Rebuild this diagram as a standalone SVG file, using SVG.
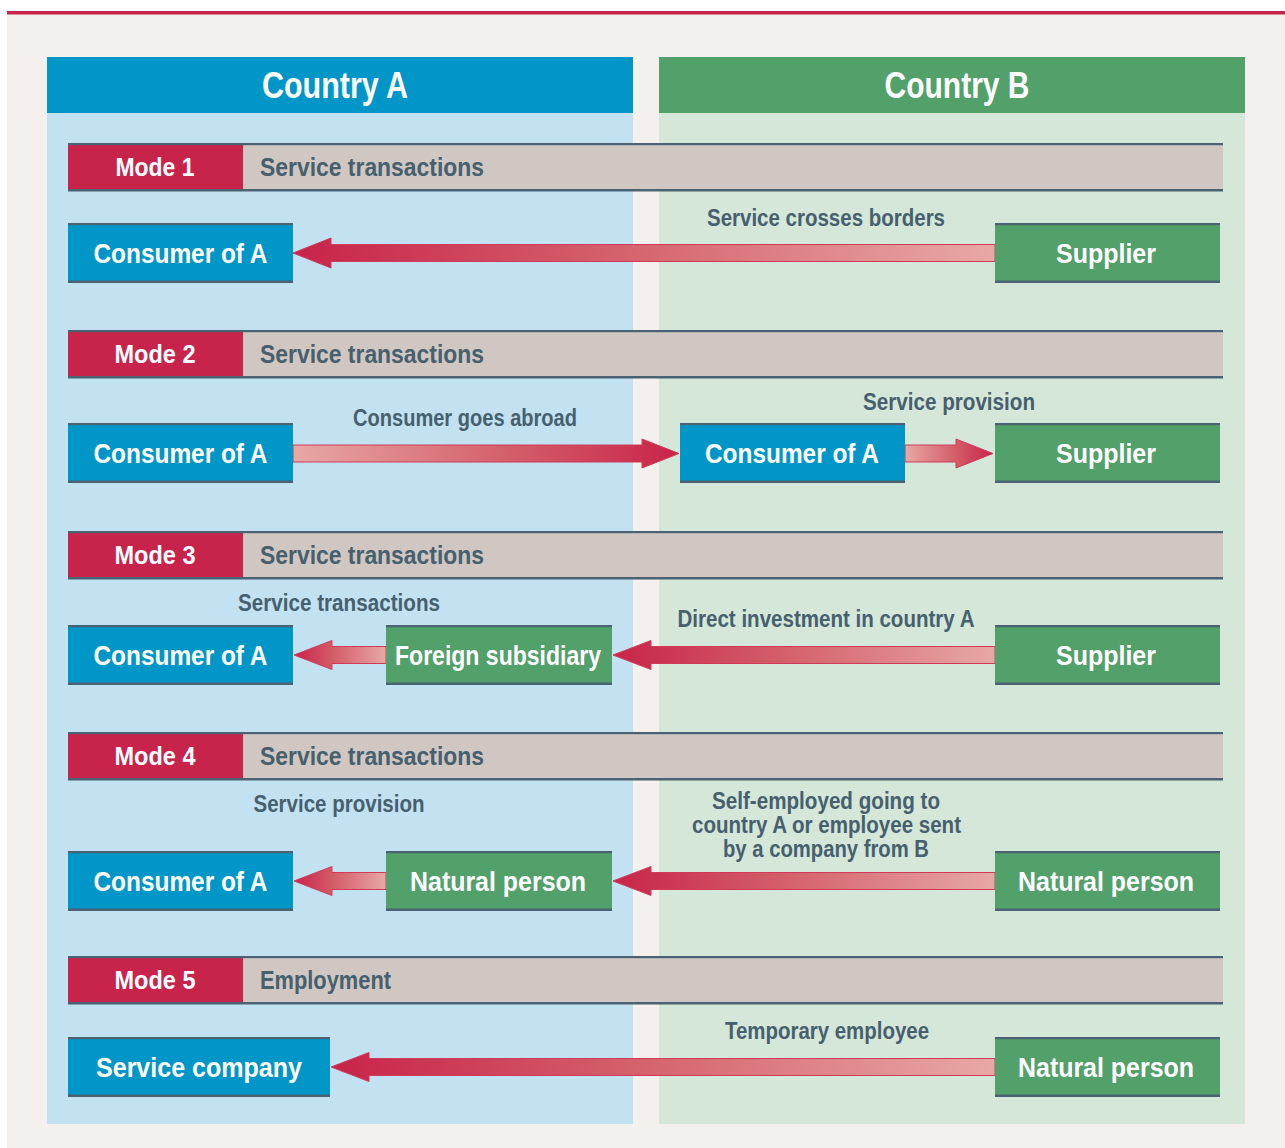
<svg xmlns="http://www.w3.org/2000/svg" width="1285" height="1148" viewBox="0 0 1285 1148">
<defs>
<linearGradient id="gL" x1="0" y1="0" x2="1" y2="0"><stop offset="0" stop-color="#c8234a"/><stop offset="0.45" stop-color="#d4606a"/><stop offset="1" stop-color="#e8a8a6"/></linearGradient>
<linearGradient id="gR" x1="0" y1="0" x2="1" y2="0"><stop offset="0" stop-color="#e8a8a6"/><stop offset="0.55" stop-color="#d4606a"/><stop offset="1" stop-color="#c8234a"/></linearGradient>
<style>
.t{font-family:"Liberation Sans",Arial,sans-serif;font-weight:bold;text-anchor:middle}
.w{fill:#ffffff}
.d{fill:#46606e}
.hd{font-size:36px}
.bx{font-size:28px}
.md{font-size:25px}
.lb{font-size:23px}
.blue{fill:#0096c8}
.green{fill:#52a06a}
.edge{fill:#4a6272}
.arr{stroke:#d03a58;stroke-width:1}
</style>
</defs>
<rect x="0" y="0" width="1285" height="1148" fill="#ffffff"/>
<rect x="7" y="14" width="1278" height="1134" fill="#f3f0ed"/>
<rect x="7" y="11" width="1278" height="3.5" fill="#c8234a"/>

<g id="countryA">
<rect x="47" y="113" width="586" height="1011" fill="#c2e2f2"/>
<rect x="47" y="57" width="586" height="56" fill="#0096c8"/>
<text class="t w hd" x="335" y="98" textLength="146" lengthAdjust="spacingAndGlyphs">Country A</text>
</g>
<g id="countryB">
<rect x="659" y="113" width="586" height="1011" fill="#d5e7d9"/>
<rect x="659" y="57" width="586" height="56" fill="#52a06a"/>
<text class="t w hd" x="957" y="98" textLength="145" lengthAdjust="spacingAndGlyphs">Country B</text>
</g>

<!-- Mode bars -->
<g id="mode1">
<rect x="68" y="143" width="1155" height="48" fill="#d0c7c2"/>
<rect x="68" y="145" width="175" height="44" fill="#c8234a"/>
<rect class="edge" x="68" y="143" width="1155" height="2.2"/>
<rect class="edge" x="68" y="189" width="1155" height="2.5"/>
<text class="t w md" x="155" y="176" textLength="79" lengthAdjust="spacingAndGlyphs">Mode 1</text>
<text class="t d md" x="372" y="176" textLength="224" lengthAdjust="spacingAndGlyphs">Service transactions</text>
</g>
<g id="mode2">
<rect x="68" y="330" width="1155" height="48" fill="#d0c7c2"/>
<rect x="68" y="332" width="175" height="44" fill="#c8234a"/>
<rect class="edge" x="68" y="330" width="1155" height="2.2"/>
<rect class="edge" x="68" y="376" width="1155" height="2.5"/>
<text class="t w md" x="155" y="363" textLength="81" lengthAdjust="spacingAndGlyphs">Mode 2</text>
<text class="t d md" x="372" y="363" textLength="224" lengthAdjust="spacingAndGlyphs">Service transactions</text>
</g>
<g id="mode3">
<rect x="68" y="531" width="1155" height="48" fill="#d0c7c2"/>
<rect x="68" y="533" width="175" height="44" fill="#c8234a"/>
<rect class="edge" x="68" y="531" width="1155" height="2.2"/>
<rect class="edge" x="68" y="577" width="1155" height="2.5"/>
<text class="t w md" x="155" y="564" textLength="81" lengthAdjust="spacingAndGlyphs">Mode 3</text>
<text class="t d md" x="372" y="564" textLength="224" lengthAdjust="spacingAndGlyphs">Service transactions</text>
</g>
<g id="mode4">
<rect x="68" y="732" width="1155" height="48" fill="#d0c7c2"/>
<rect x="68" y="734" width="175" height="44" fill="#c8234a"/>
<rect class="edge" x="68" y="732" width="1155" height="2.2"/>
<rect class="edge" x="68" y="778" width="1155" height="2.5"/>
<text class="t w md" x="155" y="765" textLength="81" lengthAdjust="spacingAndGlyphs">Mode 4</text>
<text class="t d md" x="372" y="765" textLength="224" lengthAdjust="spacingAndGlyphs">Service transactions</text>
</g>
<g id="mode5">
<rect x="68" y="956" width="1155" height="48" fill="#d0c7c2"/>
<rect x="68" y="958" width="175" height="44" fill="#c8234a"/>
<rect class="edge" x="68" y="956" width="1155" height="2.2"/>
<rect class="edge" x="68" y="1002" width="1155" height="2.5"/>
<text class="t w md" x="155" y="989" textLength="81" lengthAdjust="spacingAndGlyphs">Mode 5</text>
<text class="t d md" x="325.5" y="989" textLength="131" lengthAdjust="spacingAndGlyphs">Employment</text>
</g>

<!-- Connectors -->
<g id="connectors">
<polygon class="arr" fill="url(#gL)" points="293,253 331,238 331,244.5 995,244.5 995,261.5 331,261.5 331,268"/>
<polygon class="arr" fill="url(#gR)" points="293,445 642,445 642,439 679,453.5 642,468 642,462 293,462"/>
<polygon class="arr" fill="url(#gR)" points="905,445 956,445 956,439 993,453.5 956,468 956,462 905,462"/>
<polygon class="arr" fill="url(#gL)" points="294,655 332,640.5 332,646.5 386,646.5 386,663.5 332,663.5 332,669.5"/>
<polygon class="arr" fill="url(#gL)" points="613,655 651,640.5 651,646.5 995,646.5 995,663.5 651,663.5 651,669.5"/>
<polygon class="arr" fill="url(#gL)" points="294,881 332,866.5 332,872.5 386,872.5 386,889.5 332,889.5 332,895.5"/>
<polygon class="arr" fill="url(#gL)" points="613,881 651,866.5 651,872.5 995,872.5 995,889.5 651,889.5 651,895.5"/>
<polygon class="arr" fill="url(#gL)" points="331,1067 369,1052.5 369,1058.5 995,1058.5 995,1075.5 369,1075.5 369,1081.5"/>
<text class="t d lb" x="826" y="226" textLength="238" lengthAdjust="spacingAndGlyphs">Service crosses borders</text>
<text class="t d lb" x="465" y="426" textLength="224" lengthAdjust="spacingAndGlyphs">Consumer goes abroad</text>
<text class="t d lb" x="949" y="410" textLength="172" lengthAdjust="spacingAndGlyphs">Service provision</text>
<text class="t d lb" x="339" y="611" textLength="202" lengthAdjust="spacingAndGlyphs">Service transactions</text>
<text class="t d lb" x="826" y="627" textLength="297" lengthAdjust="spacingAndGlyphs">Direct investment in country A</text>
<text class="t d lb" x="339" y="812" textLength="171" lengthAdjust="spacingAndGlyphs">Service provision</text>
<text class="t d lb" x="826" y="809" textLength="228" lengthAdjust="spacingAndGlyphs">Self-employed going to</text>
<text class="t d lb" x="826.5" y="833" textLength="269" lengthAdjust="spacingAndGlyphs">country A or employee sent</text>
<text class="t d lb" x="826" y="857" textLength="206" lengthAdjust="spacingAndGlyphs">by a company from B</text>
<text class="t d lb" x="827" y="1039" textLength="204" lengthAdjust="spacingAndGlyphs">Temporary employee</text>
</g>

<!-- Nodes -->
<g id="m1-consumer">
<rect class="blue" x="68" y="223" width="225" height="60"/>
<rect class="edge" x="68" y="223" width="225" height="2.2"/><rect class="edge" x="68" y="280.5" width="225" height="2.5"/>
<text class="t w bx" x="180.5" y="263" textLength="174" lengthAdjust="spacingAndGlyphs">Consumer of A</text>
</g>
<g id="m1-supplier">
<rect class="green" x="995" y="223" width="225" height="60"/>
<rect class="edge" x="995" y="223" width="225" height="2.2"/><rect class="edge" x="995" y="280.5" width="225" height="2.5"/>
<text class="t w bx" x="1106" y="263" textLength="100" lengthAdjust="spacingAndGlyphs">Supplier</text>
</g>
<g id="m2-consumer">
<rect class="blue" x="68" y="423" width="225" height="60"/>
<rect class="edge" x="68" y="423" width="225" height="2.2"/><rect class="edge" x="68" y="480.5" width="225" height="2.5"/>
<text class="t w bx" x="180.5" y="463" textLength="174" lengthAdjust="spacingAndGlyphs">Consumer of A</text>
</g>
<g id="m2-consumer-abroad">
<rect class="blue" x="680" y="423" width="225" height="60"/>
<rect class="edge" x="680" y="423" width="225" height="2.2"/><rect class="edge" x="680" y="480.5" width="225" height="2.5"/>
<text class="t w bx" x="792" y="463" textLength="174" lengthAdjust="spacingAndGlyphs">Consumer of A</text>
</g>
<g id="m2-supplier">
<rect class="green" x="995" y="423" width="225" height="60"/>
<rect class="edge" x="995" y="423" width="225" height="2.2"/><rect class="edge" x="995" y="480.5" width="225" height="2.5"/>
<text class="t w bx" x="1106" y="463" textLength="100" lengthAdjust="spacingAndGlyphs">Supplier</text>
</g>
<g id="m3-consumer">
<rect class="blue" x="68" y="625" width="225" height="60"/>
<rect class="edge" x="68" y="625" width="225" height="2.2"/><rect class="edge" x="68" y="682.5" width="225" height="2.5"/>
<text class="t w bx" x="180.5" y="665" textLength="174" lengthAdjust="spacingAndGlyphs">Consumer of A</text>
</g>
<g id="m3-subsidiary">
<rect class="green" x="386" y="625" width="226" height="60"/>
<rect class="edge" x="386" y="625" width="226" height="2.2"/><rect class="edge" x="386" y="682.5" width="226" height="2.5"/>
<text class="t w bx" x="498" y="665" textLength="206" lengthAdjust="spacingAndGlyphs">Foreign subsidiary</text>
</g>
<g id="m3-supplier">
<rect class="green" x="995" y="625" width="225" height="60"/>
<rect class="edge" x="995" y="625" width="225" height="2.2"/><rect class="edge" x="995" y="682.5" width="225" height="2.5"/>
<text class="t w bx" x="1106" y="665" textLength="100" lengthAdjust="spacingAndGlyphs">Supplier</text>
</g>
<g id="m4-consumer">
<rect class="blue" x="68" y="851" width="225" height="60"/>
<rect class="edge" x="68" y="851" width="225" height="2.2"/><rect class="edge" x="68" y="908.5" width="225" height="2.5"/>
<text class="t w bx" x="180.5" y="891" textLength="174" lengthAdjust="spacingAndGlyphs">Consumer of A</text>
</g>
<g id="m4-person-a">
<rect class="green" x="386" y="851" width="226" height="60"/>
<rect class="edge" x="386" y="851" width="226" height="2.2"/><rect class="edge" x="386" y="908.5" width="226" height="2.5"/>
<text class="t w bx" x="498" y="891" textLength="176" lengthAdjust="spacingAndGlyphs">Natural person</text>
</g>
<g id="m4-person-b">
<rect class="green" x="995" y="851" width="225" height="60"/>
<rect class="edge" x="995" y="851" width="225" height="2.2"/><rect class="edge" x="995" y="908.5" width="225" height="2.5"/>
<text class="t w bx" x="1106" y="891" textLength="176" lengthAdjust="spacingAndGlyphs">Natural person</text>
</g>
<g id="m5-company">
<rect class="blue" x="68" y="1037" width="262" height="60"/>
<rect class="edge" x="68" y="1037" width="262" height="2.2"/><rect class="edge" x="68" y="1094.5" width="262" height="2.5"/>
<text class="t w bx" x="199" y="1077" textLength="206" lengthAdjust="spacingAndGlyphs">Service company</text>
</g>
<g id="m5-person">
<rect class="green" x="995" y="1037" width="225" height="60"/>
<rect class="edge" x="995" y="1037" width="225" height="2.2"/><rect class="edge" x="995" y="1094.5" width="225" height="2.5"/>
<text class="t w bx" x="1106" y="1077" textLength="176" lengthAdjust="spacingAndGlyphs">Natural person</text>
</g>
</svg>
